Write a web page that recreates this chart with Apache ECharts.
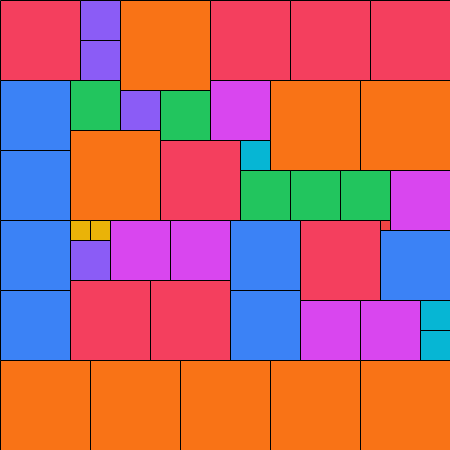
<!DOCTYPE html>
<html>
<head>
<meta charset="utf-8">
<script src="https://cdn.jsdelivr.net/npm/echarts@6/dist/echarts.min.js"></script>
<style>html,body{margin:0;padding:0;background:#fff;}#c{width:450px;height:450px;}</style>
</head>
<body>
<div id="c"></div>
<script>
// Square packing: left edge, top edge, side length (units of 10 px)
var cellX = [0, 8, 8, 12, 21, 29, 37, 0, 0, 7, 12, 16, 21, 27, 36, 7, 16, 24, 24, 29, 34, 39, 0, 0, 7, 9, 7, 11, 17, 7, 15, 23, 23, 30, 38, 38, 30, 36, 42, 42, 0, 9, 18, 27, 36];
var cellY = [0, 0, 4, 0, 0, 0, 0, 8, 15, 8, 9, 9, 8, 8, 8, 13, 14, 14, 17, 17, 17, 17, 22, 29, 22, 22, 24, 22, 22, 28, 28, 22, 29, 22, 22, 23, 30, 30, 30, 33, 36, 36, 36, 36, 36];
var cellSize = [8, 4, 4, 9, 8, 8, 8, 7, 7, 5, 4, 5, 6, 9, 9, 9, 8, 3, 5, 5, 5, 6, 7, 7, 2, 2, 4, 6, 6, 8, 8, 7, 7, 8, 1, 7, 6, 6, 3, 3, 9, 9, 9, 9, 9];
var sizeColors = {1: '#ef4444', 2: '#eab308', 3: '#06b6d4', 4: '#8b5cf6', 5: '#22c55e', 6: '#d946ef', 7: '#3b82f6', 8: '#f43f5e', 9: '#f97316'};

var data = cellX.map(function (x, i) { return [x, cellY[i], cellSize[i]]; });

var chart = echarts.init(document.getElementById('c'));
chart.setOption({
  animation: false,
  grid: {left: 0, right: 0, top: 0, bottom: 0},
  xAxis: {type: 'value', min: 0, max: 45, show: false},
  yAxis: {type: 'value', min: 0, max: 45, inverse: true, show: false},
  series: [{
    type: 'custom',
    data: data,
    renderItem: function (params, api) {
      var x = api.value(0), y = api.value(1), s = api.value(2);
      var p = api.coord([x, y]);
      var sz = api.size([s, s]);
      return {
        type: 'rect',
        shape: {x: p[0] + 0.5, y: p[1] + 0.5, width: sz[0], height: sz[1]},
        style: {fill: sizeColors[s], stroke: '#000', lineWidth: 1}
      };
    }
  }]
});
</script>
</body>
</html>
